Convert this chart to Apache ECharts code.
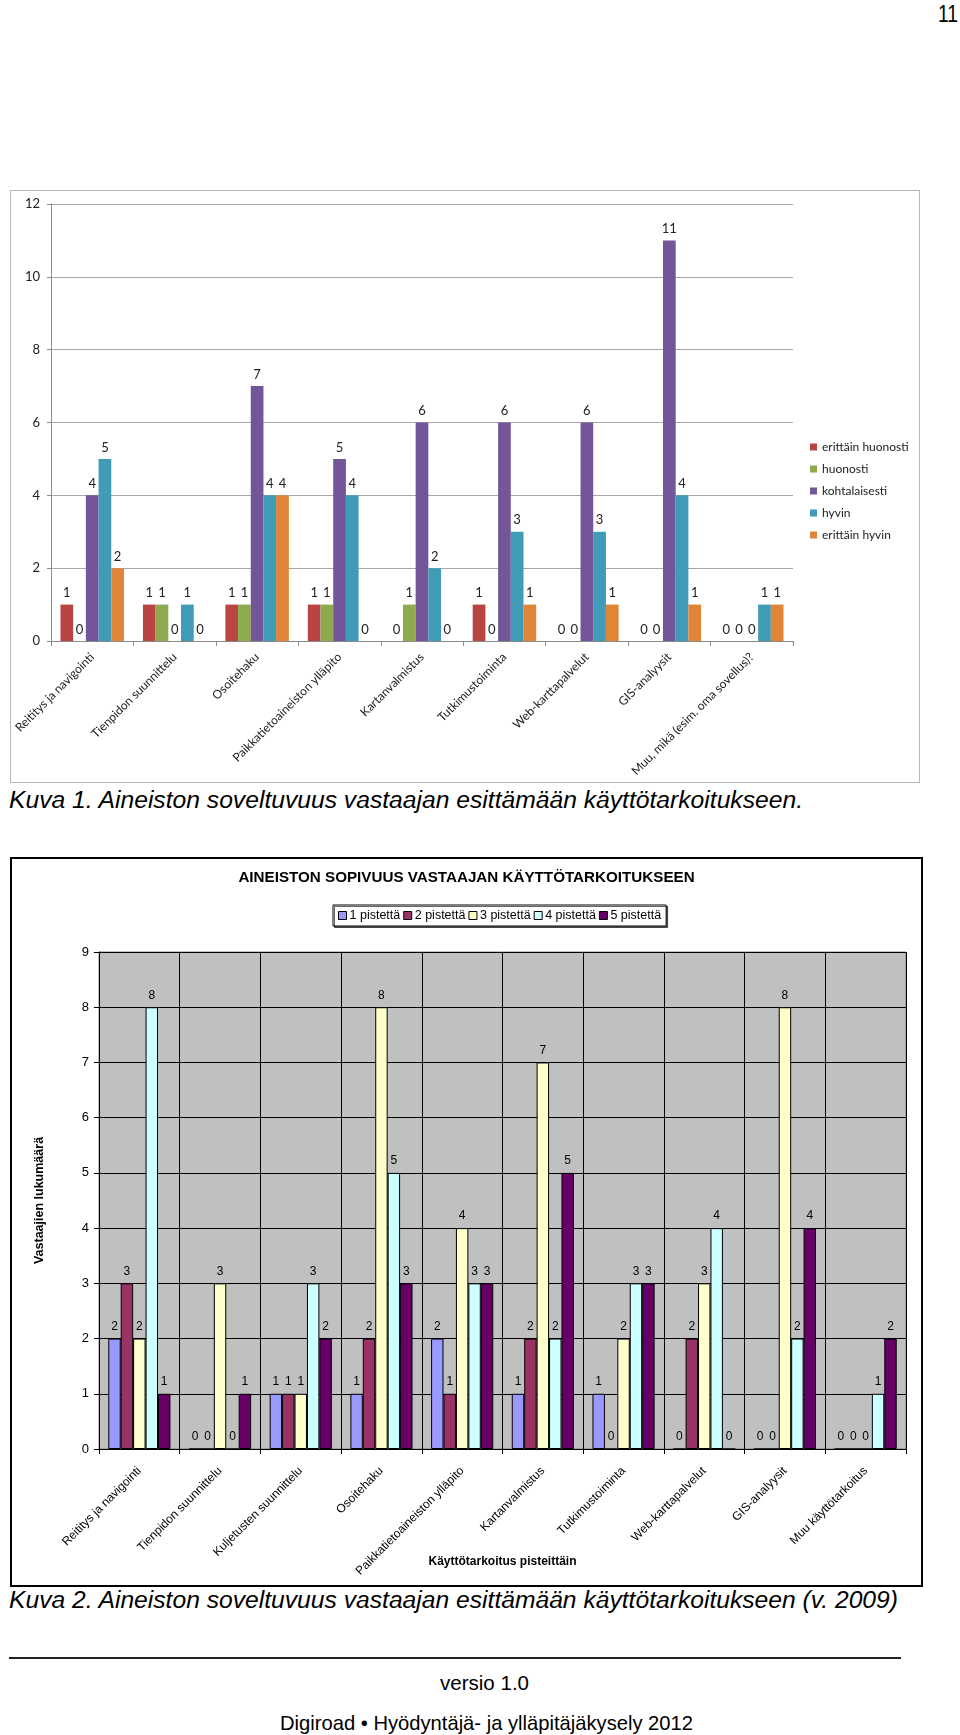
<!DOCTYPE html>
<html><head><meta charset="utf-8">
<script src="https://cdn.jsdelivr.net/npm/echarts@6/dist/echarts.min.js"></script>
<style>
body{margin:0;background:#fff;}
#page{position:relative;width:960px;height:1735px;overflow:hidden;background:#fff;}
.t{position:absolute;white-space:nowrap;font-family:'Liberation Sans',Arial,sans-serif;color:#000;transform-origin:0 0;}
.cap{font-style:italic;font-size:23px;line-height:23px;}
</style></head><body>
<div id="page">
<div class="t" data-w="20" style="left:938px;top:3px;font-size:23px;line-height:23px;">11</div>
<div id="c1" style="position:absolute;left:10px;top:190px;width:910px;height:593px;box-sizing:border-box;border:1px solid #B7B7B7;"></div>
<div class="t cap" data-w="794" style="left:9px;top:789px;">Kuva 1. Aineiston soveltuvuus vastaajan esittämään käyttötarkoitukseen.</div>
<div id="c2" style="position:absolute;left:10px;top:857px;width:913px;height:730px;box-sizing:border-box;border:2px solid #000;"></div>
<div class="t cap" data-w="889" style="left:9px;top:1589px;">Kuva 2. Aineiston soveltuvuus vastaajan esittämään käyttötarkoitukseen (v. 2009)</div>
<div style="position:absolute;left:9px;top:1657px;width:892px;height:2px;background:#222;"></div>
<div class="t" data-w="89" style="left:440px;top:1672px;font-size:21px;line-height:21px;">versio 1.0</div>
<div class="t" data-w="413" style="left:280px;top:1712px;font-size:21px;line-height:21px;">Digiroad • Hyödyntäjä- ja ylläpitäjäkysely 2012</div>
</div>
<script>
// ---- Chart 1 data ----
const topCategories = ['Reititys ja navigointi','Tienpidon suunnittelu','Osoitehaku','Paikkatietoaineiston ylläpito','Kartanvalmistus','Tutkimustoiminta','Web-karttapalvelut','GIS-analyysit','Muu, mikä (esim. oma sovellus)?'];
const topSeriesNames = ['erittäin huonosti','huonosti','kohtalaisesti','hyvin','erittäin hyvin'];
const topErittainHuonosti = [1,1,1,1,0,1,0,0,0];
const topHuonosti        = [0,1,1,1,1,0,0,0,0];
const topKohtalaisesti   = [4,0,7,5,6,6,6,11,0];
const topHyvin           = [5,1,4,4,2,3,3,4,1];
const topErittainHyvin   = [2,0,4,0,0,1,1,1,1];
const topColors = ['#B94441','#8DAA4F','#735699','#3F9BB6','#E08437'];
const topYTicks = [0,2,4,6,8,10,12];

// ---- Chart 2 data ----
const bottomTitle = 'AINEISTON SOPIVUUS VASTAAJAN KÄYTTÖTARKOITUKSEEN';
const bottomCategories = ['Reititys ja navigointi','Tienpidon suunnittelu','Kuljetusten suunnittelu','Osoitehaku','Paikkatietoaineiston ylläpito','Kartanvalmistus','Tutkimustoiminta','Web-karttapalvelut','GIS-analyysit','Muu käyttötarkoitus'];
const bottomSeriesNames = ['1 pistettä','2 pistettä','3 pistettä','4 pistettä','5 pistettä'];
const piste1 = [2,0,1,1,2,1,1,0,0,0];
const piste2 = [3,0,1,2,1,2,0,2,0,0];
const piste3 = [2,3,1,8,4,7,2,3,8,0];
const piste4 = [8,0,3,5,3,2,3,4,2,1];
const piste5 = [1,1,2,3,3,5,3,0,4,2];
const bottomColors = ['#9999FF','#993366','#FFFFCC','#CCFFFF','#660066'];
const bottomYTicks = [0,1,2,3,4,5,6,7,8,9];

// fit condensed page text
document.querySelectorAll('[data-w]').forEach(el => {
  const w = el.getBoundingClientRect().width;
  el.style.transform = 'scaleX(' + (+el.dataset.w / w) + ')';
});

const topValues = [topErittainHuonosti, topHuonosti, topKohtalaisesti, topHyvin, topErittainHyvin];
const c1 = echarts.init(document.getElementById('c1'));
const f1 = 'Lato, "Open Sans", sans-serif';
c1.setOption({
  animation:false,
  textStyle:{fontFamily:f1},
  grid:{left:40, top:13, width:742, height:437, containLabel:false, outerBoundsMode:'none'},
  legend:{
    orient:'vertical', left:794, top:244, itemWidth:7, itemHeight:7, itemGap:8,
    icon:'rect', data:topSeriesNames,
    textStyle:{fontFamily:f1, fontSize:12, color:'#222', lineHeight:14}
  },
  xAxis:{
    type:'category', data:topCategories,
    axisLine:{lineStyle:{color:'#8A8A8A'}},
    axisTick:{show:true, length:5, lineStyle:{color:'#8A8A8A'}},
    axisLabel:{rotate:45, margin:14, fontFamily:f1, fontSize:12, color:'#222', interval:0}
  },
  yAxis:{
    type:'value', min:topYTicks[0], max:topYTicks[topYTicks.length-1], interval:topYTicks[1]-topYTicks[0],
    axisLine:{show:true, lineStyle:{color:'#8A8A8A'}},
    axisTick:{show:true, length:4, lineStyle:{color:'#8A8A8A'}},
    axisLabel:{margin:11, fontFamily:f1, fontSize:13, color:'#222'},
    splitLine:{lineStyle:{color:'#A8A8A8'}}
  },
  series: topSeriesNames.map((n,i)=>({
    name:n, type:'bar', data:topValues[i], barGap:'0%', barCategoryGap:'23%',
    itemStyle:{color:topColors[i]},
    label:{show:true, position:'top', distance:5, fontFamily:f1, fontSize:13, color:'#222'}
  }))
});

const bottomValues = [piste1, piste2, piste3, piste4, piste5];
const c2 = echarts.init(document.getElementById('c2'));
const f2 = '"Liberation Sans", Arial, sans-serif';
c2.setOption({
  animation:false,
  textStyle:{fontFamily:f2},
  title:{text:bottomTitle, left:'center', top:11, padding:0,
    textStyle:{fontFamily:f2, fontSize:15.2, fontWeight:'bold', color:'#000'}},
  grid:{left:87, top:93, width:807, height:497, show:true, backgroundColor:'#C0C0C0', borderColor:'#808080', borderWidth:1, containLabel:false, outerBoundsMode:'none'},
  legend:{
    left:321, top:46, padding:[4,5], itemWidth:8, itemHeight:8, itemGap:3,
    borderColor:'#000', borderWidth:1, backgroundColor:'#fff',
    shadowColor:'rgba(0,0,0,0.6)', shadowOffsetX:1.5, shadowOffsetY:1.5, shadowBlur:0,
    icon:'rect', data:bottomSeriesNames,
    itemStyle:{borderColor:'#000', borderWidth:1},
    textStyle:{fontFamily:f2, fontSize:12.5, color:'#000', padding:[0,0,0,-2]}
  },
  xAxis:{
    type:'category', data:bottomCategories,
    name:'Käyttötarkoitus pisteittäin', nameLocation:'middle', nameGap:107, nameMoveOverlap:false,
    nameTextStyle:{fontFamily:f2, fontSize:12, fontWeight:'bold', color:'#000'},
    axisLine:{lineStyle:{color:'#000'}},
    axisTick:{show:true, length:5, lineStyle:{color:'#000'}},
    splitLine:{show:true, lineStyle:{color:'#000'}},
    axisLabel:{rotate:45, margin:20, fontFamily:f2, fontSize:12, color:'#000', interval:0}
  },
  yAxis:{
    type:'value', min:bottomYTicks[0], max:bottomYTicks[bottomYTicks.length-1], interval:bottomYTicks[1]-bottomYTicks[0],
    name:'Vastaajien lukumäärä', nameLocation:'middle', nameGap:53, nameMoveOverlap:false,
    nameTextStyle:{fontFamily:f2, fontSize:12.5, fontWeight:'bold', color:'#000'},
    axisLine:{show:true, lineStyle:{color:'#000'}},
    axisTick:{show:true, length:5, lineStyle:{color:'#000'}},
    axisLabel:{margin:10, fontFamily:f2, fontSize:13, color:'#000'},
    splitLine:{lineStyle:{color:'#000'}}
  },
  series: bottomSeriesNames.map((n,i)=>({
    name:n, type:'bar', data:bottomValues[i], barGap:'0%', barCategoryGap:'23%',
    itemStyle:{color:bottomColors[i], borderColor:'#000', borderWidth:1},
    label:{show:true, position:'top', distance:6, fontFamily:f2, fontSize:12, color:'#000'}
  }))
});
</script>
</body></html>
